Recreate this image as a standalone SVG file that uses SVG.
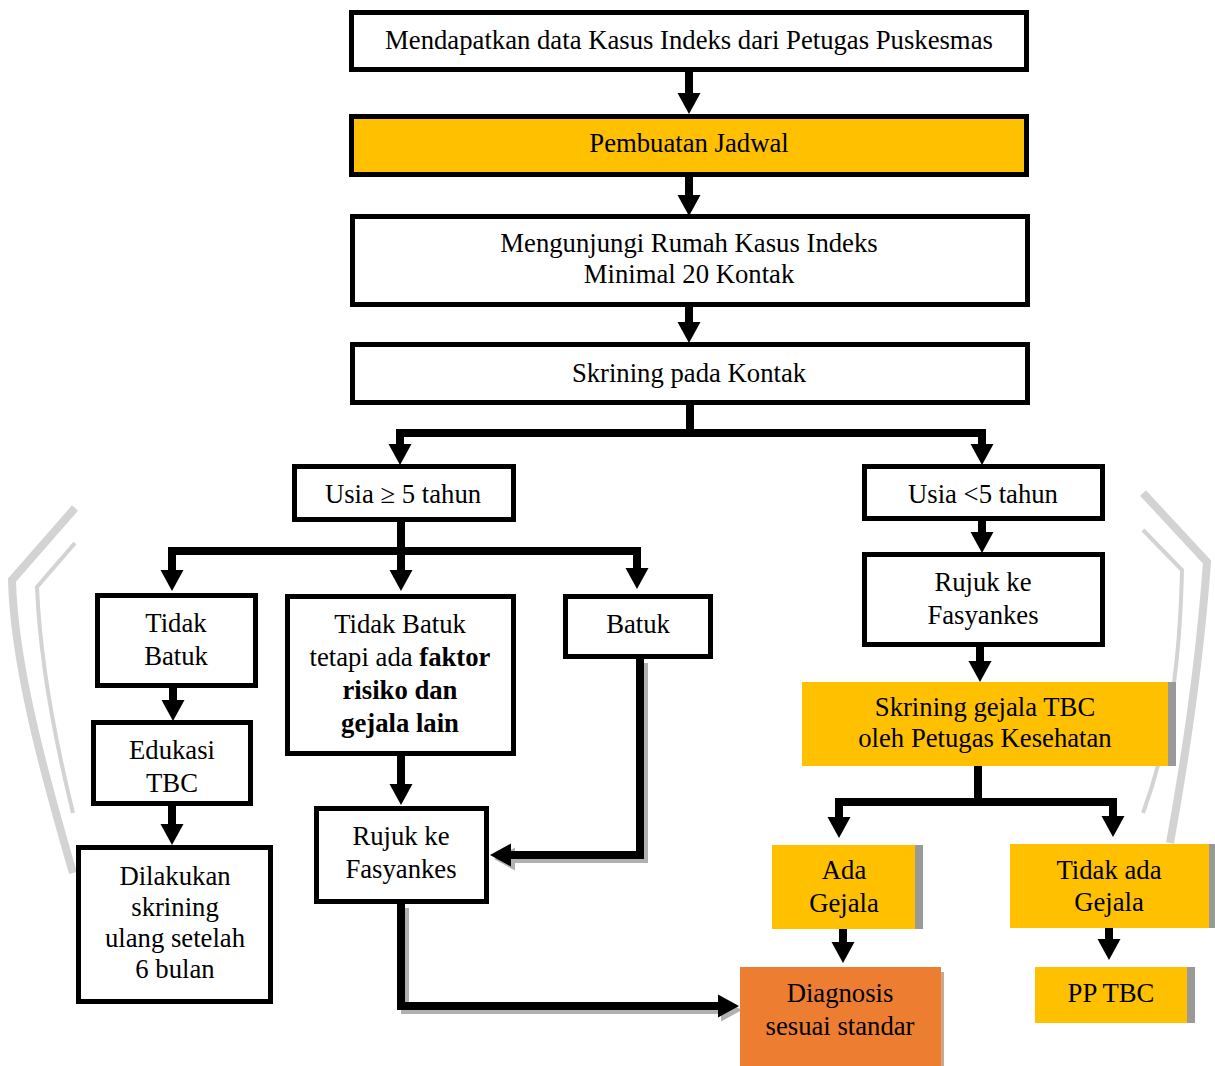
<svg xmlns="http://www.w3.org/2000/svg" xmlns:xlink="http://www.w3.org/1999/xlink" width="1215" height="1066" viewBox="0 0 1215 1066">
<style>
.box{fill:#fff;stroke:#000;stroke-width:5}
.yel{fill:#FFC000}
.org{fill:#ED7D31}
.shd{fill:#999}
.t{font-family:"Liberation Serif","Times New Roman",serif;font-size:26.7px;fill:#000;text-anchor:middle}
.b{font-weight:bold}
.c{fill:none;stroke:#000;stroke-width:8;stroke-linejoin:miter}
.cs{fill:none;stroke:#b0b0b0;stroke-width:8}
.wm{fill:none;stroke:#d3d3d3;stroke-linecap:butt;stroke-linejoin:miter}
</style>
<defs>
<path id="hd" d="M-11.5,-21 L11.5,-21 L0,0 Z" fill="#000"/>
<path id="hds" d="M-11.5,-21 L11.5,-21 L0,0 Z" fill="#b0b0b0"/>
</defs>
<rect width="1215" height="1066" fill="#fff"/>
<g id="watermark">
<path class="wm" stroke-width="8" d="M75,508 L12,580 C14,660 40,760 73,873"/>
<path class="wm" stroke-width="4" d="M75,543 L37,587 C40,660 55,740 73,813"/>
<path class="wm" stroke-width="8" d="M1143,493 L1207,562 C1200,660 1185,760 1170,843"/>
<path class="wm" stroke-width="4" d="M1143,530 L1182,570 C1180,660 1170,740 1143,813"/>
</g>
<g id="connectors">
<path class="c" d="M689,72 V95"/><use xlink:href="#hd" x="689" y="114"/>
<path class="c" d="M689,177 V196"/><use xlink:href="#hd" x="689" y="216"/>
<path class="c" d="M689,307 V324"/><use xlink:href="#hd" x="689" y="343"/>
<path class="c" d="M690,405 V433"/>
<path class="c" d="M400,446 V433 H982 V446"/>
<use xlink:href="#hd" x="400" y="465"/><use xlink:href="#hd" x="982" y="465"/>
<path class="c" d="M401,522 V551"/>
<path class="c" d="M172,572 V551 H637 V572"/>
<use xlink:href="#hd" x="172" y="591"/><use xlink:href="#hd" x="401" y="591"/><use xlink:href="#hd" x="637" y="589"/>
<path class="c" d="M401,551 V572"/>
<path class="c" d="M173,688 V702"/><use xlink:href="#hd" x="173" y="721"/>
<path class="c" d="M172,806 V826"/><use xlink:href="#hd" x="172" y="845"/>
<path class="c" d="M401,756 V786"/><use xlink:href="#hd" x="401" y="805"/>
<path class="cs" d="M644,663 V859 H512"/><use xlink:href="#hds" transform="translate(494,859) rotate(90)"/>
<path class="c" d="M640,659 V855 H510"/><use xlink:href="#hd" transform="translate(490,855) rotate(90)"/>
<path class="cs" d="M405,908 V1010 H722"/><use xlink:href="#hds" transform="translate(742,1010) rotate(-90)"/>
<path class="c" d="M401,904 V1006 H718"/><use xlink:href="#hd" transform="translate(739,1006) rotate(-90)"/>
<path class="c" d="M982,521 V533"/><use xlink:href="#hd" x="982" y="553"/>
<path class="c" d="M980,647 V663"/><use xlink:href="#hd" x="980" y="682"/>
<path class="c" d="M978,766 V802"/>
<path class="c" d="M839,818 V802 H1113 V818"/>
<use xlink:href="#hd" x="839" y="838"/><use xlink:href="#hd" x="1113" y="837"/>
<path class="c" d="M843,929 V944"/><use xlink:href="#hd" x="843" y="963"/>
<path class="c" d="M1109,928 V941"/><use xlink:href="#hd" x="1109" y="960"/>
</g>
<g id="n1"><rect class="box" x="351.5" y="12.5" width="675" height="57"/><text class="t" x="689" y="49">Mendapatkan data Kasus Indeks dari Petugas Puskesmas</text></g>
<g id="n2"><rect class="box" x="351.5" y="116.5" width="675" height="58" style="fill:#FFC000"/><text class="t" x="689" y="152">Pembuatan Jadwal</text></g>
<g id="n3"><rect class="box" x="352.5" y="216.5" width="675" height="88"/><text class="t" x="689" y="252">Mengunjungi Rumah Kasus Indeks</text><text class="t" x="689" y="283">Minimal 20 Kontak</text></g>
<g id="n4"><rect class="box" x="352.5" y="344.5" width="675" height="58"/><text class="t" x="689" y="382">Skrining pada Kontak</text></g>
<g id="n5"><rect class="box" x="294.5" y="466.5" width="219" height="53"/><text class="t" x="403" y="503">Usia ≥ 5 tahun</text></g>
<g id="n6"><rect class="box" x="864.5" y="466.5" width="238" height="52"/><text class="t" x="983" y="503">Usia &lt;5 tahun</text></g>
<g id="n7"><rect class="box" x="97.5" y="595.5" width="158" height="90"/><text class="t" x="176" y="632">Tidak</text><text class="t" x="176" y="665">Batuk</text></g>
<g id="n8"><rect class="box" x="287.5" y="596.5" width="226" height="157"/><text class="t" x="400" y="633">Tidak Batuk</text><text class="t" x="400" y="666">tetapi ada <tspan class="b">faktor</tspan></text><text class="t b" x="400" y="699">risiko dan</text><text class="t b" x="400" y="732">gejala lain</text></g>
<g id="n9"><rect class="box" x="565.5" y="596.5" width="145" height="60"/><text class="t" x="638" y="633">Batuk</text></g>
<g id="n10"><rect class="box" x="93.5" y="722.5" width="157" height="81"/><text class="t" x="172" y="759">Edukasi</text><text class="t" x="172" y="792">TBC</text></g>
<g id="n11"><rect class="box" x="78.5" y="847.5" width="192" height="154"/><text class="t" x="175" y="885">Dilakukan</text><text class="t" x="175" y="916">skrining</text><text class="t" x="175" y="947">ulang setelah</text><text class="t" x="175" y="978">6 bulan</text></g>
<g id="n12"><rect class="box" x="316.5" y="808.5" width="170" height="93"/><text class="t" x="401" y="845">Rujuk ke</text><text class="t" x="401" y="878">Fasyankes</text></g>
<g id="n13"><rect class="box" x="864.5" y="554.5" width="238" height="90"/><text class="t" x="983" y="591">Rujuk ke</text><text class="t" x="983" y="624">Fasyankes</text></g>
<g id="n14"><rect class="shd" x="1168" y="682" width="8" height="84"/><rect class="yel" x="802" y="682" width="366" height="84"/><text class="t" x="985" y="716">Skrining gejala TBC</text><text class="t" x="985" y="747">oleh Petugas Kesehatan</text></g>
<g id="n15"><rect class="shd" x="915" y="845" width="8" height="84"/><rect class="yel" x="772" y="845" width="143" height="84"/><text class="t" x="844" y="879">Ada</text><text class="t" x="844" y="912">Gejala</text></g>
<g id="n16"><rect class="shd" x="1209" y="844" width="6" height="84"/><rect class="yel" x="1010" y="844" width="199" height="84"/><text class="t" x="1109" y="879">Tidak ada</text><text class="t" x="1109" y="911">Gejala</text></g>
<g id="n17"><rect x="941" y="972" width="3" height="94" fill="#c8a890"/><rect class="org" x="740" y="967" width="201" height="99"/><text class="t" x="840" y="1002">Diagnosis</text><text class="t" x="840" y="1035">sesuai standar</text></g>
<g id="n18"><rect class="shd" x="1187" y="967" width="8" height="56"/><rect class="yel" x="1035" y="967" width="152" height="56"/><text class="t" x="1111" y="1002">PP TBC</text></g>
</svg>
